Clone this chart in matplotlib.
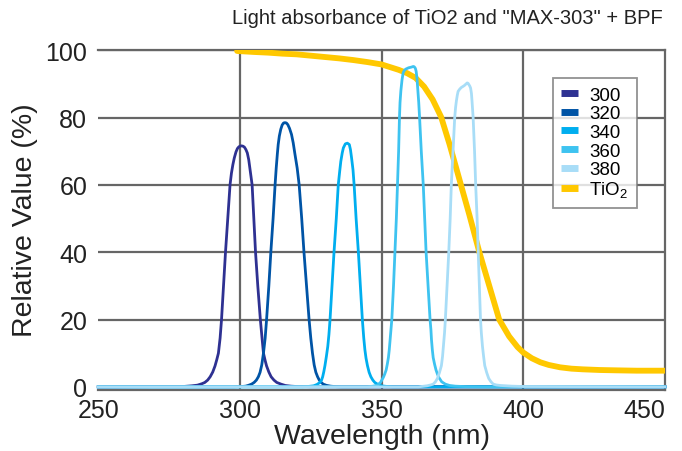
import matplotlib
matplotlib.use("Agg")
import matplotlib.pyplot as plt
from matplotlib.lines import Line2D

plt.rcParams['font.family'] = ['Liberation Sans', 'DejaVu Sans']
plt.rcParams['mathtext.fontset'] = 'custom'
plt.rcParams['mathtext.rm'] = 'Liberation Sans'

# ---- data ----
x_ticks = [250, 300, 350, 400, 450]
y_ticks = [0, 20, 40, 60, 80, 100]

tio2_x = [299, 305, 310, 315, 320, 325, 330, 335, 340, 345, 350, 353, 356, 359, 362, 365,
          368, 371, 374, 378, 381, 384.5, 388, 391.5, 395, 398, 400, 403, 406, 409, 413,
          417, 421, 427, 433, 440, 450]
tio2_y = [99.8, 99.5, 99.3, 99.0, 98.8, 98.4, 98.0, 97.6, 97.1, 96.5, 95.8, 95.0, 94.2, 93.2,
          91.8, 89.2, 85.4, 80.2, 72.0, 60.0, 51.0, 40.0, 30.0, 20.0, 15.0, 11.8, 10.2, 8.5,
          7.3, 6.5, 5.8, 5.4, 5.2, 5.0, 4.9, 4.8, 4.8]

p300_x = [250, 280, 283, 285, 286.5, 287.6, 288.6, 289.5, 290.4, 291.2, 291.8, 292.4, 293,
          293.5, 294.2, 294.9, 295.7, 296.5, 297, 297.5, 298, 298.6, 299.1, 299.6, 300.1,
          300.6, 301.1, 301.6, 302.1, 302.6, 303.1, 303.5, 303.9, 304.3, 304.9, 305.5, 306.3,
          307.2, 307.8, 308.3, 308.9, 309.4, 310.2, 311, 312, 313, 314.5, 316, 318, 320, 325, 450]
p300_y = [0, 0.1, 0.3, 0.5, 0.9, 1.3, 2, 3, 4.4, 6.2, 8, 10, 14.5, 20, 30, 40, 50, 60, 63.5,
          66, 68, 69.8, 70.8, 71.3, 71.55, 71.6, 71.5, 71.2, 70.5, 69.5, 67.5, 65, 62.5, 60,
          50, 40, 30, 20, 14.5, 10, 7.8, 6.2, 4.4, 3, 2, 1.3, 0.8, 0.4, 0.2, 0.1, 0, 0]

p320_x = [250, 298, 300, 302, 303, 304.1, 305, 305.8, 306.5, 307.1, 307.7, 308.3, 308.9, 309.4,
          310.2, 310.9, 311.7, 312.4, 312.8, 313.2, 313.5, 313.9, 314.4, 314.9, 315.4, 315.9,
          316.4, 316.9, 317.5, 318.2, 318.8, 319.4, 320.2, 320.9, 321.8, 322.6, 323.5, 324.4,
          325, 325.6, 326.2, 326.8, 327.4, 328, 328.7, 329.4, 330.5, 332, 334, 336, 450]
p320_y = [0, 0, 0.05, 0.2, 0.45, 0.8, 1.3, 2, 3, 4.3, 6.5, 10, 14.5, 20, 30, 40, 50, 60, 65,
          69.2, 72, 74.5, 76.5, 77.8, 78.4, 78.5, 78.4, 77.9, 76.8, 75, 72.5, 69.2, 65, 60, 50,
          40, 30, 20, 14.5, 10, 6.5, 4.3, 3, 2, 1.3, 0.8, 0.45, 0.2, 0.05, 0, 0]

p340_x = [250, 322, 324, 326, 327.2, 328.2, 328.8, 329.2, 329.6, 330, 330.5, 331, 331.4, 331.8,
          332.5, 333.2, 334, 334.7, 335.2, 335.6, 336.1, 336.5, 337.2, 337.9, 338.6, 339,
          339.4, 339.9, 340.3, 341, 341.8, 342.5, 343.2, 343.7, 344.1, 344.5, 345, 345.6,
          346.2, 346.9, 347.6, 348.7, 350, 352, 354, 450]
p340_y = [0, 0, 0.1, 0.3, 0.7, 1.3, 2, 3, 4.5, 6.3, 9, 12, 15.5, 20, 30, 40, 50, 60, 64, 67,
          69.5, 71, 72.2, 72.4, 72, 70.5, 68, 64.5, 60, 50, 40, 30, 20, 14.5, 11, 8.5, 6.3,
          4.3, 3, 2, 1.3, 0.7, 0.3, 0.1, 0, 0]

p360_x = [250, 345, 347, 348.5, 349.6, 350.6, 351.1, 351.6, 352, 352.4, 352.7, 353, 353.3,
          353.6, 354.2, 354.7, 355.2, 355.6, 356, 356.3, 356.5, 356.8, 357.2, 357.6, 358,
          358.5, 359.5, 360.5, 361.2, 361.5, 361.8, 362, 362.2, 362.5, 362.8, 363.1, 363.4,
          364, 364.7, 365.2, 365.7, 366.4, 367.1, 367.4, 367.6, 367.9, 368.2, 368.7, 369.2,
          369.7, 370.2, 371.2, 372.5, 374, 376, 380, 385, 450]
p360_y = [0, 0, 0.2, 0.5, 1.3, 2.8, 3.8, 5, 6.7, 8.7, 11, 14, 17, 20, 30, 40, 50, 60, 70, 80,
          84.5, 88, 91.2, 93.3, 94, 94.4, 94.8, 95, 95.2, 95.1, 94.8, 94.4, 93.7, 91.5, 88,
          84.5, 80, 70, 60, 50, 40, 30, 20, 17, 14, 11, 8.7, 6.7, 5, 3.8, 2.8, 1.5, 0.8, 0.4,
          0.2, 0.05, 0, 0]

p380_x = [250, 363, 366, 367.3, 368.2, 369, 369.7, 370.4, 371.1, 371.5, 371.8, 372.2, 372.5,
          373.1, 373.7, 374.2, 374.6, 375.2, 375.8, 376.1, 376.4, 376.7, 377, 377.6, 378.2,
          378.8, 379.3, 379.8, 380.2, 380.5, 380.8, 381.1, 381.4, 381.7, 381.9, 382.1, 382.3,
          382.8, 383.2, 383.7, 384.1, 384.5, 384.9, 385.2, 385.6, 386, 386.4, 387.1, 387.8,
          388.6, 389.4, 390.5, 392, 396, 400, 450]
p380_y = [0, 0, 0.3, 0.55, 0.8, 1.5, 2.5, 4.2, 6.3, 9, 12, 16, 20, 30, 40, 50, 60, 70, 80, 83,
          85, 86.6, 87.8, 88.5, 89, 89.3, 89.6, 90, 90.3, 90.2, 89.8, 89.4, 88.8, 87.2, 85,
          82.5, 80, 70, 60, 50, 40, 30, 20, 16, 12, 9, 6.3, 4.2, 2.5, 1.5, 0.8, 0.55, 0.4, 0.2,
          0.1, 0]

series_labels = ['300', '320', '340', '360', '380', 'TiO$_{\\mathrm{2}}$']
series_colors = ['#2E3192', '#0054A6', '#00AEEF', '#3EC3F0', '#A8DDF7', '#FFC800']

# ---- figure ----
fig = plt.figure(figsize=(6.82, 4.52), dpi=100)
ax = fig.add_axes([0.1441, 0.136, 0.975 - 0.1441, 0.888 - 0.136])

grid_c = '#666666'
text_c = '#222222'
ax.set_xlim(250, 450)
ax.set_ylim(-0.8, 100.2)
ax.set_xticks(x_ticks)
ax.set_yticks(y_ticks)
for xv in [300, 350, 400]:
    ax.axvline(xv, color=grid_c, lw=1.6, zorder=1)
for yv in [20, 40, 60, 80, 100]:
    ax.axhline(yv, color=grid_c, lw=1.6, zorder=1)

ax.plot(tio2_x, tio2_y, color=series_colors[5], lw=4.2, zorder=3,
        solid_capstyle='round', solid_joinstyle='round')
peaks = [(p300_x, p300_y), (p320_x, p320_y), (p340_x, p340_y), (p360_x, p360_y), (p380_x, p380_y)]
for (px, py), c in zip(peaks, series_colors[:5]):
    ax.plot(px, py, color=c, lw=2.0, zorder=4, clip_on=False, solid_joinstyle='round')

ax.spines['left'].set_visible(False)
for s in ['top', 'right', 'bottom']:
    ax.spines[s].set_color(grid_c)
    ax.spines[s].set_linewidth(1.6)

ax.tick_params(axis='both', length=0, labelsize=18, colors=text_c)
ax.tick_params(axis='x', pad=6)
ax.tick_params(axis='y', pad=8)
labs = ax.get_xticklabels()
labs[-1].set_horizontalalignment('right')

ax.set_xlabel('Wavelength (nm)', fontsize=20.5, color=text_c, labelpad=1)
ax.set_ylabel('Relative Value (%)', fontsize=20.5, color=text_c, labelpad=5)

fig.text(663 / 682, 1 - 19 / 452, 'Light absorbance of TiO2 and "MAX-303" + BPF',
         ha='right', va='center', fontsize=14.5, color=text_c)

handles = [Line2D([0], [0], color=c, lw=5, solid_capstyle='butt') for c in series_colors]
leg = ax.legend(handles, series_labels, loc='upper left', bbox_to_anchor=(0.802, 0.916),
                fontsize=13.5, frameon=True, fancybox=False, handlelength=0.9,
                handletextpad=0.6, labelspacing=0.08, borderpad=0.45, borderaxespad=0)
leg.get_frame().set_edgecolor('#777777')
leg.get_frame().set_linewidth(1.3)
leg.set_zorder(6)

fig.savefig('out.png', dpi=100)
